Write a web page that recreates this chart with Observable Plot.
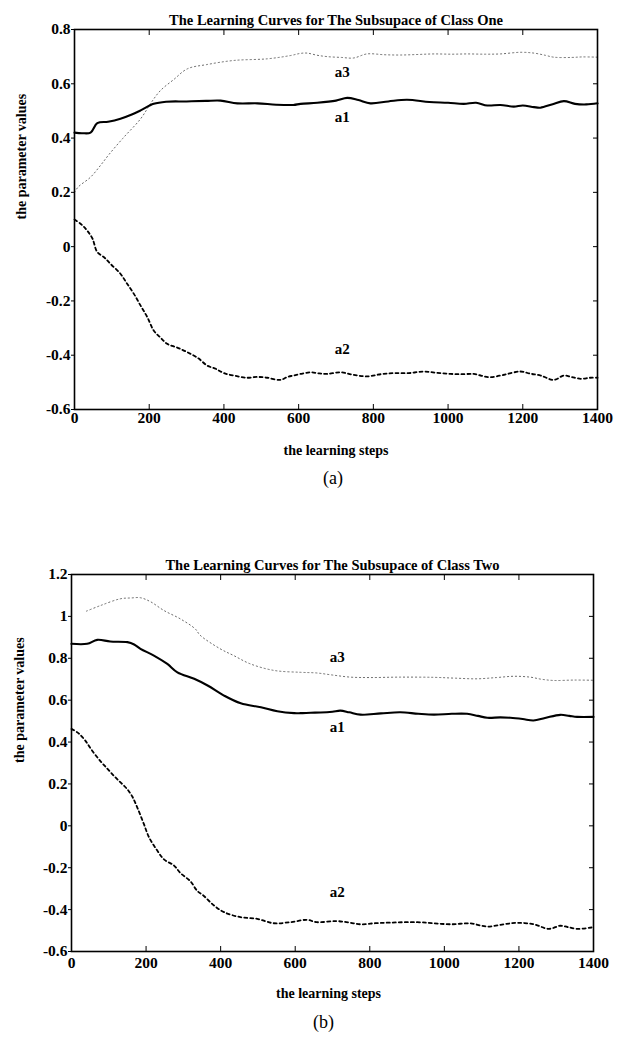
<!DOCTYPE html>
<html>
<head>
<meta charset="utf-8">
<script src="https://cdn.jsdelivr.net/npm/d3@7"></script>
<script src="https://cdn.jsdelivr.net/npm/@observablehq/plot@0.6"></script>
<style>
  html, body { margin: 0; padding: 0; background: #fff; }
  #chart svg { display: block; }
</style>
</head>
<body>
<div id="chart"></div>
<script>
// ---------- shared ----------
const xTicks = [0, 200, 400, 600, 800, 1000, 1200, 1400];
const xLabel = "the learning steps";
const yLabel = "the parameter values";
const curveNames = ["a3", "a1", "a2"];

// ---------- panel (a): Class One ----------
const titleA = "The Learning Curves for The Subsupace of Class One";
const captionA = "(a)";
const yTicksA = [-0.6, -0.4, -0.2, 0, 0.2, 0.4, 0.6, 0.8];

const a1StepsA = [0, 20, 43, 61, 90, 123, 150, 177, 212, 245, 300, 352, 391, 436, 490, 540, 586, 605, 650, 700, 730, 760, 792, 840, 890, 950, 1000, 1042, 1075, 1105, 1140, 1176, 1200, 1230, 1247, 1280, 1310, 1340, 1370, 1400];
const a1ValuesA = [0.42, 0.418, 0.42, 0.455, 0.46, 0.471, 0.485, 0.502, 0.526, 0.534, 0.535, 0.537, 0.538, 0.528, 0.528, 0.523, 0.522, 0.526, 0.53, 0.538, 0.548, 0.54, 0.528, 0.535, 0.541, 0.533, 0.53, 0.526, 0.53, 0.52, 0.522, 0.516, 0.52, 0.514, 0.512, 0.525, 0.536, 0.526, 0.524, 0.528];

const a2StepsA = [0, 20, 34, 48, 61, 80, 96, 123, 140, 159, 178, 195, 212, 230, 248, 275, 302, 330, 355, 378, 400, 430, 462, 490, 516, 551, 570, 586, 605, 632, 655, 676, 712, 745, 783, 820, 855, 895, 935, 970, 1007, 1040, 1069, 1090, 1114, 1150, 1194, 1220, 1248, 1283, 1310, 1330, 1355, 1380, 1400];
const a2ValuesA = [0.1, 0.08, 0.059, 0.03, -0.02, -0.04, -0.063, -0.1, -0.135, -0.174, -0.22, -0.26, -0.309, -0.335, -0.358, -0.372, -0.389, -0.41, -0.438, -0.45, -0.466, -0.476, -0.483, -0.48, -0.483, -0.491, -0.48, -0.475, -0.469, -0.463, -0.467, -0.469, -0.463, -0.472, -0.478, -0.47, -0.466, -0.466, -0.46, -0.465, -0.469, -0.47, -0.469, -0.476, -0.481, -0.472, -0.46, -0.468, -0.475, -0.491, -0.475, -0.48, -0.487, -0.483, -0.483];

const a3StepsA = [0, 10, 43, 70, 92, 130, 177, 205, 230, 266, 302, 355, 427, 516, 578, 605, 623, 650, 677, 715, 747, 783, 830, 873, 920, 962, 1010, 1051, 1100, 1140, 1194, 1230, 1260, 1283, 1330, 1360, 1400];
const a3ValuesA = [0.2, 0.22, 0.256, 0.3, 0.339, 0.4, 0.471, 0.53, 0.575, 0.616, 0.655, 0.671, 0.686, 0.692, 0.704, 0.712, 0.713, 0.705, 0.7, 0.697, 0.695, 0.71, 0.707, 0.706, 0.708, 0.71, 0.709, 0.71, 0.709, 0.71, 0.716, 0.713, 0.705, 0.698, 0.697, 0.699, 0.698];

const nameStepsA = [717, 717, 717];
const nameValuesA = [0.643, 0.477, -0.376];

// ---------- panel (b): Class Two ----------
const titleB = "The Learning Curves for The Subsupace of Class Two";
const captionB = "(b)";
const yTicksB = [-0.6, -0.4, -0.2, 0, 0.2, 0.4, 0.6, 0.8, 1, 1.2];

const a1StepsB = [0, 42, 69, 104, 150, 168, 185, 221, 257, 284, 329, 365, 409, 454, 508, 552, 597, 614, 642, 668, 700, 721, 745, 775, 830, 882, 930, 972, 1020, 1061, 1090, 1115, 1150, 1177, 1210, 1239, 1270, 1311, 1335, 1356, 1400];
const a1ValuesB = [0.869, 0.869, 0.888, 0.88, 0.877, 0.866, 0.845, 0.813, 0.773, 0.733, 0.702, 0.67, 0.622, 0.585, 0.566, 0.547, 0.538, 0.538, 0.54, 0.541, 0.545, 0.55, 0.542, 0.531, 0.537, 0.542, 0.535, 0.531, 0.535, 0.535, 0.525, 0.516, 0.518, 0.516, 0.51, 0.503, 0.515, 0.53, 0.525, 0.52, 0.52];

const a2StepsB = [0, 20, 37, 55, 78, 95, 113, 130, 149, 163, 177, 194, 208, 230, 248, 275, 292, 319, 337, 355, 382, 409, 453, 498, 542, 587, 632, 657, 712, 745, 775, 815, 855, 927, 970, 1016, 1070, 1115, 1160, 1195, 1240, 1280, 1311, 1330, 1356, 1400];
const a2ValuesB = [0.463, 0.44, 0.407, 0.36, 0.308, 0.275, 0.24, 0.21, 0.176, 0.14, 0.085, 0.009, -0.055, -0.118, -0.16, -0.19, -0.225, -0.265, -0.31, -0.335, -0.38, -0.412, -0.436, -0.444, -0.465, -0.46, -0.449, -0.46, -0.455, -0.462, -0.47, -0.465, -0.462, -0.46, -0.465, -0.47, -0.466, -0.481, -0.47, -0.463, -0.47, -0.492, -0.477, -0.483, -0.492, -0.484];

const a3StepsB = [40, 78, 131, 160, 185, 212, 248, 292, 332, 345, 399, 435, 480, 543, 614, 657, 700, 748, 800, 882, 972, 1030, 1088, 1140, 1186, 1230, 1260, 1293, 1350, 1400];
const a3ValuesB = [1.025, 1.052, 1.084, 1.088, 1.089, 1.07, 1.028, 0.988, 0.94, 0.91, 0.845, 0.813, 0.773, 0.742, 0.733, 0.73, 0.72, 0.71, 0.708, 0.71, 0.709, 0.705, 0.702, 0.708, 0.714, 0.71, 0.7, 0.694, 0.696, 0.695];

const nameStepsB = [713, 713, 713];
const nameValuesB = [0.805, 0.471, -0.317];

// ---------- helpers ----------
const rows = (steps, values) => steps.map((s, i) => ({step: s, value: values[i]}));
const fmtY = d => String(+(+d).toFixed(1));
const FONT = "'Liberation Serif', 'DejaVu Serif', serif";

function panel(o) {
  const lineOpts = {x: "step", y: "value", curve: "catmull-rom"};
  return Plot.plot({
    width: 620,
    height: o.height,
    marginLeft: o.marginLeft,
    marginRight: o.marginRight,
    marginTop: o.marginTop,
    marginBottom: o.marginBottom,
    style: {fontFamily: FONT, background: "white", color: "black", overflow: "visible"},
    x: {domain: [0, 1400]},
    y: {domain: o.yDomain},
    marks: [
      // data lines
      Plot.line(rows(o.a3Steps, o.a3Values), {...lineOpts, stroke: "#6a6a6a", strokeWidth: 1, strokeDasharray: "1.2,2.8"}),
      Plot.line(rows(o.a1Steps, o.a1Values), {...lineOpts, stroke: "black", strokeWidth: 2.1}),
      Plot.line(rows(o.a2Steps, o.a2Values), {...lineOpts, stroke: "black", strokeWidth: 1.8, strokeDasharray: "3,3"}),
      // curve names
      Plot.text(curveNames, {x: o.nameSteps, y: o.nameValues, text: d => d, fontSize: 15, fontWeight: "bold", fill: "black"}),
      // axes (inward ticks like MATLAB)
      Plot.axisX({anchor: "bottom", ticks: xTicks, tickSize: -5, tickPadding: o.xPad, fontSize: 15.5, fontWeight: "bold", label: null, tickFormat: d => String(d)}),
      Plot.axisX({anchor: "top", ticks: xTicks, tickSize: -5, tickFormat: () => "", label: null}),
      Plot.axisY({anchor: "left", ticks: o.yTicks, tickSize: 3, tickPadding: 1, fontSize: 15.5, fontWeight: "bold", label: null, tickFormat: fmtY}),
      Plot.axisY({anchor: "right", ticks: o.yTicks, tickSize: -5, tickFormat: () => "", label: null}),
      Plot.frame({stroke: "black", strokeWidth: 1.6}),
      // title, axis labels, caption
      Plot.text([o.title], {frameAnchor: "top", dy: -15, fontSize: 14.5, fontWeight: "bold", fill: "black"}),
      Plot.text([xLabel], {frameAnchor: "bottom", dy: o.xLabelDy, dx: o.xLabelDx, fontSize: 14, fontWeight: "bold", fill: "black"}),
      Plot.text([yLabel], {frameAnchor: "left", dx: o.yLabelDx, rotate: -90, fontSize: 14, fontWeight: "bold", fill: "black"}),
      Plot.text([o.caption], {frameAnchor: "bottom", dy: o.capDy, dx: o.capDx, fontSize: 18, fill: "black"})
    ]
  });
}

const chart = document.getElementById("chart");
chart.append(panel({
  height: 510, marginTop: 29, marginBottom: 101, marginLeft: 74, marginRight: 23,
  yDomain: [-0.6, 0.8], yTicks: yTicksA, title: titleA, caption: captionA,
  a1Steps: a1StepsA, a1Values: a1ValuesA, a2Steps: a2StepsA, a2Values: a2ValuesA,
  a3Steps: a3StepsA, a3Values: a3ValuesA, nameSteps: nameStepsA, nameValues: nameValuesA,
  xPad: 7, xLabelDy: 45, xLabelDx: 0, yLabelDx: -53, capDy: 74, capDx: -3
}));
chart.append(panel({
  height: 540, marginTop: 64, marginBottom: 99, marginLeft: 71, marginRight: 27,
  yDomain: [-0.6, 1.2], yTicks: yTicksB, title: titleB, caption: captionB,
  a1Steps: a1StepsB, a1Values: a1ValuesB, a2Steps: a2StepsB, a2Values: a2ValuesB,
  a3Steps: a3StepsB, a3Values: a3ValuesB, nameSteps: nameStepsB, nameValues: nameValuesB,
  xPad: 10, xLabelDy: 46, xLabelDx: -4, yLabelDx: -52, capDy: 76, capDx: -9
}));
</script>
</body>
</html>
